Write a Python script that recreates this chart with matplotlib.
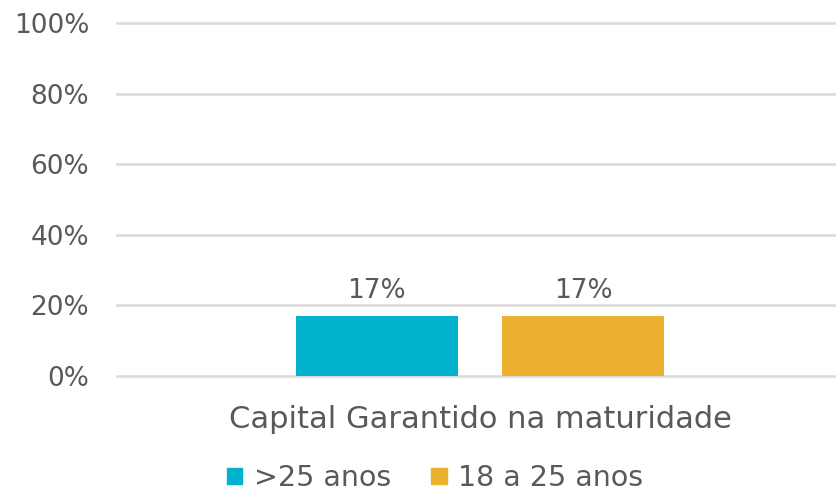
import matplotlib.pyplot as plt
from matplotlib.patches import Patch

plt.rcParams['font.family'] = ['DejaVu Sans']

# dados
categories = ['Capital Garantido na maturidade']
series_names = ['>25 anos', '18 a 25 anos']
series_values = [[17], [17]]
series_colors = ['#00B2CC', '#EBB02D']
y_ticks = [0, 20, 40, 60, 80, 100]

text_color = '#595959'
grid_color = '#D9D9D9'

fig = plt.figure(figsize=(8.36, 4.92), dpi=100)
ax = fig.add_axes([117 / 836, 1 - 376 / 492, 726 / 836, (376 - 23) / 492])

bar_w = 0.223
offsets = [-0.142, 0.142]
for i, (name, vals) in enumerate(zip(series_names, series_values)):
    xs = [c + offsets[i] for c in range(len(categories))]
    bars = ax.bar(xs, vals, bar_w, color=series_colors[i], label=name, zorder=3)
    for b, v in zip(bars, vals):
        ax.text(b.get_x() + b.get_width() / 2, v + 3.5, f'{v}%',
                ha='center', va='bottom', fontsize=19, color=text_color)

ax.set_xlim(-0.5, len(categories) - 0.5)
ax.set_ylim(0, 100)
ax.set_yticks(y_ticks)
ax.set_yticklabels([f'{t}%' for t in y_ticks])
ax.set_xticks(range(len(categories)))
ax.set_xticklabels(categories)
ax.tick_params(axis='y', length=0, pad=20, labelsize=19, labelcolor=text_color)
ax.tick_params(axis='x', length=0, pad=21, labelsize=22, labelcolor=text_color)
ax.grid(axis='y', color=grid_color, linewidth=1.8, zorder=0)
for gl in ax.get_ygridlines():
    gl.set_clip_on(False)
for s in ax.spines.values():
    s.set_visible(False)

handles = [Patch(color=c) for c in series_colors]
fig.legend(handles, series_names, loc='center', bbox_to_anchor=(435 / 836, 1 - 478 / 492),
           ncol=2, frameon=False, fontsize=20.5, labelcolor=text_color,
           handlelength=0.55, handleheight=0.45, handletextpad=0.4, columnspacing=1.4)

plt.savefig('out.png', dpi=100)
